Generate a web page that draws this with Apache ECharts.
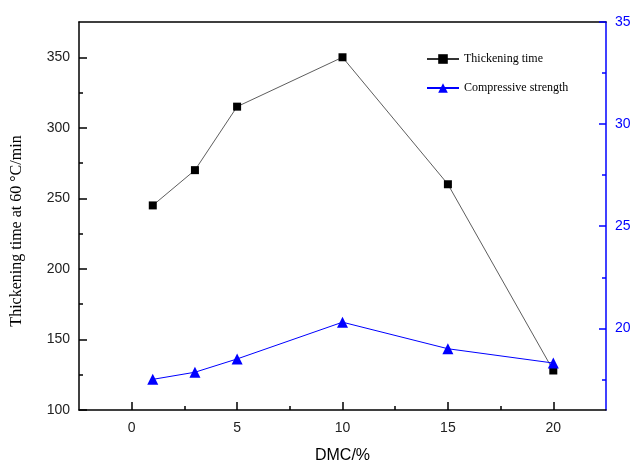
<!DOCTYPE html>
<html>
<head>
<meta charset="utf-8">
<script src="https://cdn.jsdelivr.net/npm/echarts@6/dist/echarts.min.js"></script>
<style>html,body{margin:0;padding:0;background:#fff}#c{width:632px;height:465px}</style>
</head>
<body>
<div id="c"></div>
<script>
const dmc = [1, 3, 5, 10, 15, 20];
const thickeningTime = [245, 270, 315, 350, 260, 128];
const compressiveStrength = [17.5, 17.85, 18.5, 20.3, 19.0, 18.3];
const xTicks = [0, 5, 10, 15, 20];
const xMinorTicks = [2.5, 7.5, 12.5, 17.5];
const leftTicks = [100, 150, 200, 250, 300, 350];
const leftMinorTicks = [125, 175, 225, 275, 325];
const rightTicks = [20, 25, 30, 35];
const rightMinorTicks = [17.5, 22.5, 27.5, 32.5];

const chart = echarts.init(document.getElementById('c'));
const sans = 'Liberation Sans, Arial, sans-serif';
const serif = 'Liberation Serif, Times New Roman, serif';
const blue = '#0000ff';

chart.setOption({
  animation: false,
  backgroundColor: '#fff',
  grid: { left: 79, right: 26, top: 22, bottom: 55, containLabel: false, outerBoundsMode: 'none' },
  legend: {
    orient: 'vertical', left: 421, top: 48, itemGap: 17,
    itemWidth: 32, itemHeight: 12,
    textStyle: { fontFamily: serif, fontSize: 12, color: '#000' },
    data: ['Thickening time', 'Compressive strength']
  },
  xAxis: [
    {
      type: 'value', position: 'bottom', min: -2.5, max: 22.5,
      name: 'DMC/%', nameLocation: 'middle', nameGap: 38,
      nameTextStyle: { fontFamily: sans, fontSize: 16, color: '#000' },
      axisLine: { onZero: false, lineStyle: { color: '#000', width: 1.5 } },
      axisTick: { inside: true, length: 8, customValues: xTicks, lineStyle: { color: '#000', width: 1.5 } },
      axisLabel: { customValues: xTicks, margin: 11, fontFamily: sans, fontSize: 14, color: '#222' },
      splitLine: { show: false }
    },
    {
      type: 'value', position: 'bottom', min: -2.5, max: 22.5,
      axisLine: { show: false, onZero: false },
      axisTick: { inside: true, length: 4, customValues: xMinorTicks, lineStyle: { color: '#000', width: 1.5 } },
      axisLabel: { show: false },
      splitLine: { show: false }
    },
    {
      type: 'value', position: 'top', min: -2.5, max: 22.5,
      axisLine: { onZero: false, lineStyle: { color: '#000', width: 1.5 } },
      axisTick: { show: false }, axisLabel: { show: false }, splitLine: { show: false }
    }
  ],
  yAxis: [
    {
      type: 'value', position: 'left', min: 100, max: 375,
      name: 'Thickening time at 60 °C/min', nameLocation: 'middle', nameGap: 54,
      nameTextStyle: { fontFamily: serif, fontSize: 16, color: '#000', padding: [0, 30, 0, 0] },
      axisLine: { show: true, onZero: false, lineStyle: { color: '#000', width: 1.5 } },
      axisTick: { inside: true, length: 8, customValues: leftTicks, lineStyle: { color: '#000', width: 1.5 } },
      axisLabel: { customValues: leftTicks, margin: 9, fontFamily: sans, fontSize: 14, color: '#222' },
      splitLine: { show: false }
    },
    {
      type: 'value', position: 'left', min: 100, max: 375,
      axisLine: { show: false, onZero: false },
      axisTick: { inside: true, length: 4, customValues: leftMinorTicks, lineStyle: { color: '#000', width: 1.5 } },
      axisLabel: { show: false }, splitLine: { show: false }
    },
    {
      type: 'value', position: 'right', min: 16, max: 35,
      axisLine: { show: true, onZero: false, lineStyle: { color: blue, width: 1.5 } },
      axisTick: { inside: true, length: 7, customValues: rightTicks, lineStyle: { color: blue, width: 1.5 } },
      axisLabel: { customValues: rightTicks, margin: 9, fontFamily: sans, fontSize: 14, color: blue },
      splitLine: { show: false }
    },
    {
      type: 'value', position: 'right', min: 16, max: 35,
      axisLine: { show: false, onZero: false },
      axisTick: { inside: true, length: 4, customValues: rightMinorTicks, lineStyle: { color: blue, width: 1.5 } },
      axisLabel: { show: false }, splitLine: { show: false }
    }
  ],
  series: [
    {
      name: 'Thickening time', type: 'line', xAxisIndex: 0, yAxisIndex: 0,
      data: dmc.map((x, i) => [x, thickeningTime[i]]),
      symbol: 'rect', symbolSize: 8,
      itemStyle: { color: '#000' },
      lineStyle: { color: '#333', width: 0.8 }
    },
    {
      name: 'Compressive strength', type: 'line', xAxisIndex: 0, yAxisIndex: 2,
      data: dmc.map((x, i) => [x, compressiveStrength[i]]),
      symbol: 'triangle', symbolSize: 11,
      itemStyle: { color: blue },
      lineStyle: { color: blue, width: 1 }
    }
  ]
});
</script>
</body>
</html>
